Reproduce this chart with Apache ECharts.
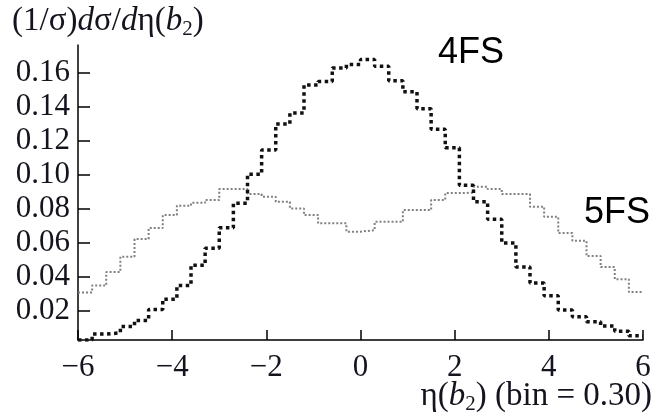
<!DOCTYPE html>
<html><head><meta charset="utf-8">
<script src="https://cdn.jsdelivr.net/npm/echarts@6/dist/echarts.min.js"></script>
<style>html,body{margin:0;padding:0;background:#fff}#c{width:659px;height:420px}</style>
</head><body><div id="c"></div>
<script>
// ---- data ----
const binStart = -6;
const binWidth = 0.30;
const seriesNames = ['4FS', '5FS'];
const fs4 = [0.003, 0.0065, 0.0072, 0.011, 0.0145, 0.021, 0.027, 0.035, 0.047, 0.057,
             0.069, 0.0835, 0.1005, 0.1147, 0.130, 0.1365, 0.153, 0.155, 0.163, 0.165,
             0.168, 0.164, 0.1555, 0.149, 0.139, 0.127, 0.116, 0.094, 0.0843, 0.074,
             0.060, 0.046, 0.0365, 0.029, 0.0206, 0.0167, 0.0137, 0.0112, 0.0082, 0.0055];
const fs5 = [0.031, 0.035, 0.043, 0.052, 0.0624, 0.0688, 0.0765, 0.082, 0.0837, 0.0853,
             0.0918, 0.0918, 0.0888, 0.0873, 0.0843, 0.0804, 0.0765, 0.0716, 0.0716, 0.0667,
             0.0676, 0.0725, 0.0725, 0.0794, 0.0794, 0.0853, 0.0894, 0.0896, 0.0931, 0.0918,
             0.0888, 0.0888, 0.0814, 0.0755, 0.0659, 0.0614, 0.0524, 0.0459, 0.0388, 0.0312];
const yTicks = [0.02, 0.04, 0.06, 0.08, 0.10, 0.12, 0.14, 0.16];
const xMin = -6, xMax = 6, xStep = 2;

function stepData(vals) {
  const d = vals.map((v, i) => [+(binStart + i * binWidth).toFixed(2), v]);
  d.push([+(binStart + vals.length * binWidth).toFixed(2), vals[vals.length - 1]]);
  return d;
}

const serif = '"Liberation Serif", "Times New Roman", serif';
const sans = '"Liberation Sans", Arial, sans-serif';
const txt = '#14141e';

const chart = echarts.init(document.getElementById('c'), null, { renderer: 'canvas' });
chart.setOption({
  animation: false,
  backgroundColor: '#fff',
  grid: { left: 78, right: 16, top: 45, bottom: 80 },
  xAxis: {
    type: 'value', min: xMin, max: xMax, interval: xStep,
    axisLine: { show: true, onZero: false, lineStyle: { color: '#000', width: 1.5 } },
    axisTick: { show: true, inside: true, length: 10, lineStyle: { color: '#000', width: 1.5 } },
    axisLabel: { fontFamily: serif, fontSize: 31, color: txt, margin: 12,
      formatter: v => (v < 0 ? '\u2212' + Math.abs(v) : String(v)) },
    splitLine: { show: false }
  },
  yAxis: {
    type: 'value', min: 0.003, max: 0.1765,
    axisLine: { show: true, onZero: false, lineStyle: { color: '#000', width: 1.5 } },
    axisTick: { show: true, inside: true, length: 12, customValues: yTicks, lineStyle: { color: '#000', width: 1.5 } },
    axisLabel: { fontFamily: serif, fontSize: 31, color: txt, margin: 8, customValues: yTicks,
      formatter: v => v.toFixed(2) },
    splitLine: { show: false }
  },
  series: [
    { name: seriesNames[0], type: 'line', step: 'end', symbol: 'none', data: stepData(fs4),
      lineStyle: { color: '#111', width: 3.5, type: [3.5, 3.5], cap: 'butt' }, z: 3 },
    { name: seriesNames[1], type: 'line', step: 'end', symbol: 'none', data: stepData(fs5),
      lineStyle: { color: '#808080', width: 2, type: [2, 2], cap: 'butt' }, z: 2 }
  ],
  graphic: [
    { type: 'text', left: 12, top: 5,
      style: { text: '{n|(1/σ)}{i|d}{n|σ/}{i|d}{n|η(}{i|b}{s|2}{n|)}',
        rich: {
          n: { fontFamily: serif, fontSize: 33, fill: txt },
          i: { fontFamily: serif, fontSize: 33, fontStyle: 'italic', fill: txt },
          s: { fontFamily: serif, fontSize: 21, fill: txt, padding: [16, 0, 0, 0] }
        } } },
    { type: 'text', right: 7, top: 380,
      style: { text: '{n|η(}{i|b}{s|2}{n|) (bin = 0.30)}',
        rich: {
          n: { fontFamily: serif, fontSize: 33, fill: txt },
          i: { fontFamily: serif, fontSize: 33, fontStyle: 'italic', fill: txt },
          s: { fontFamily: serif, fontSize: 21, fill: txt, padding: [16, 0, 0, 0] }
        } } },
    { type: 'text', left: 438, top: 35,
      style: { text: seriesNames[0], fontFamily: sans, fontSize: 36, fill: '#000' } },
    { type: 'text', left: 584, top: 195,
      style: { text: seriesNames[1], fontFamily: sans, fontSize: 36, fill: '#000' } }
  ]
});
</script>
</body></html>
